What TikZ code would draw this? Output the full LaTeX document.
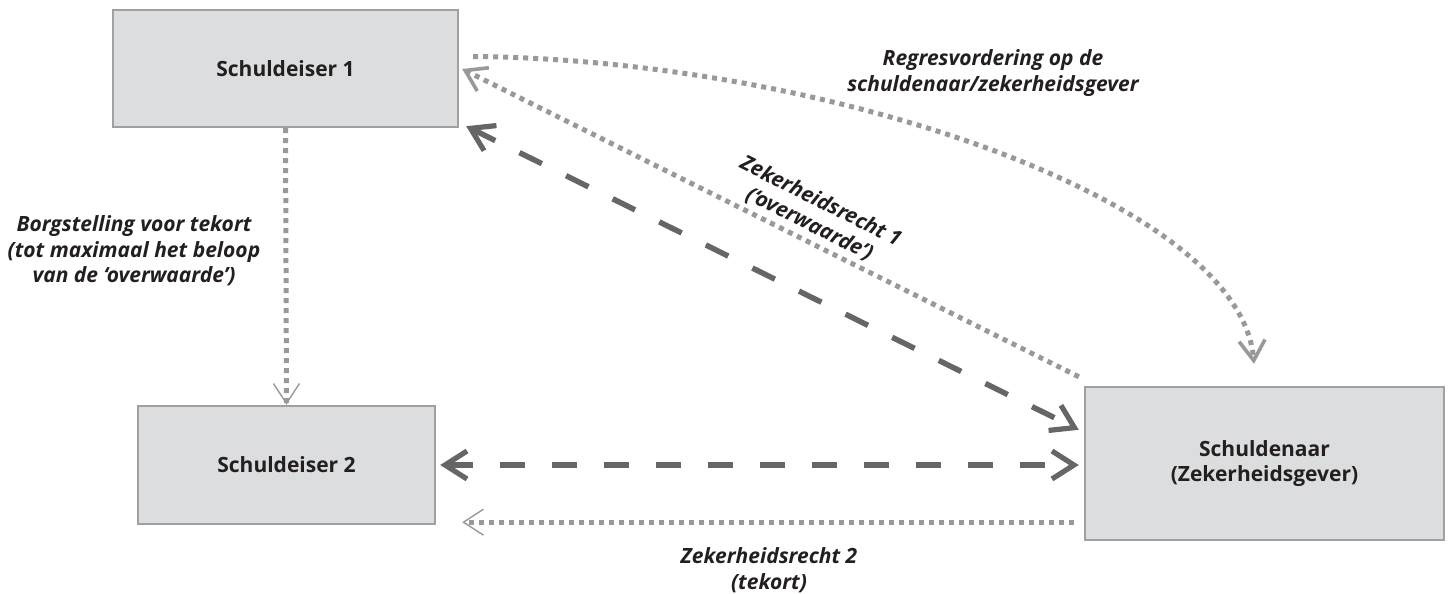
\documentclass[tikz,border=0pt]{standalone}
\usepackage{fontspec}
\setmainfont{Open Sans}[BoldFont={* Bold}, BoldItalicFont={* Bold Italic}]
\usetikzlibrary{arrows.meta,positioning}

\definecolor{boxfill}{HTML}{DCDDDE}
\definecolor{boxline}{HTML}{A0A0A0}
\definecolor{darkline}{HTML}{666666}
\definecolor{lightline}{HTML}{999999}
\definecolor{inktext}{HTML}{231F20}

\tikzset{
  party/.style={draw=boxline, line width=1.2pt, fill=boxfill, text=inktext,
    font=\bfseries\fontsize{10.5}{12.75}\selectfont, align=center, inner sep=0pt},
  claim/.style={text=inktext, font=\bfseries\itshape\fontsize{10.5}{12.75}\selectfont,
    align=center, inner sep=0pt},
  dashline/.style={draw=darkline, line width=2.75pt, dash pattern=on 12.5pt off 13.5pt},
  dotline/.style={draw=lightline, line width=2.5pt, dash pattern=on 2.5pt off 2.5pt},
  darktip/.tip={Straight Barb[length=11pt,width=14pt,line width=2.6pt]},
  midtip/.tip={Straight Barb[length=10pt,width=13pt,line width=1.8pt]},
  thintip/.tip={Straight Barb[length=10pt,width=13pt,line width=0.7pt]}
}

\begin{document}
\begin{tikzpicture}[x=0.5pt, y=-0.5pt]
  \useasboundingbox (0,0) rectangle (1451,594);

  % Nodes
  \node[party, minimum width=172.5pt, minimum height=58.5pt] (sd1) at (285.5,68.5) {Schuldeiser 1};
  \node[party, minimum width=148.5pt, minimum height=59pt]   (sd2) at (286.5,465) {Schuldeiser 2};
  \node[party, minimum width=179.5pt, minimum height=76.5pt] (sn)  at (1264.5,463.5) {Schuldenaar\\(Zekerheidsgever)};

  % Labels
  \node[claim]              (borg)   at (134,251) {Borgstelling voor tekort\\(tot maximaal het beloop\\van de ‘overwaarde’)};
  \node[claim]              (regres) at (993,73)  {Regresvordering op de\\schuldenaar/zekerheidsgever};
  \node[claim, rotate=-26.5] (zr1)   at (815,213) {Zekerheidsrecht 1\\(‘overwaarde’)};
  \node[claim]              (zr2)    at (769,570) {Zekerheidsrecht 2\\(tekort)};

  % Edges
  \draw[dotline, -{thintip}] (sd1.south) -- (sd2.north); % borgstelling
  \draw[dashline, {darktip}-{darktip}] ([shift={(7,-2)}]sd1.south east) -- ([shift={(-5,44)}]sn.north west);
  \draw[dashline, {darktip}-{darktip}] ([shift={(4,0)}]sd2.east) -- ([shift={(-5,1.5)}]sn.west);
  \draw[dotline, -{midtip}] ([shift={(-5,-9)}]sn.north west) -- ([shift={(3,0.5)}]sd1.east); % zekerheidsrecht 1
  \draw[dotline, -{midtip}] ([shift={(14,-12)}]sd1.east) .. controls +(348,3) and +(-14,-165) .. ([shift={(-10.5,-22)}]sn.north); % regres
  \draw[dotline, -{thintip}] ([shift={(-10,-19)}]sn.south west) -- ([shift={(26,-3)}]sd2.south east); % zekerheidsrecht 2
\end{tikzpicture}
\end{document}
